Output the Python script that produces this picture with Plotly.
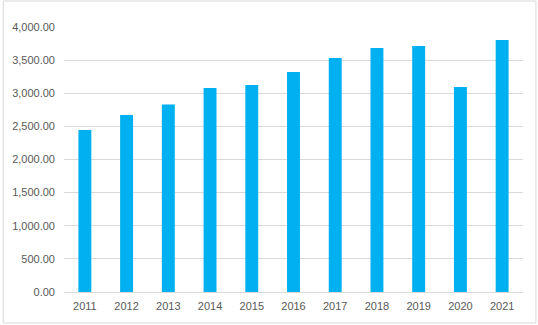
import plotly.graph_objects as go

# Annual totals, 2011-2021
years = ["2011", "2012", "2013", "2014", "2015", "2016",
         "2017", "2018", "2019", "2020", "2021"]
values = [2445, 2672, 2830, 3079, 3125, 3321, 3532, 3683, 3713, 3094, 3804]
y_ticks = [0, 500, 1000, 1500, 2000, 2500, 3000, 3500, 4000]

W, H = 538, 325
ML, MR, MT, MB = 62, 15, 27, 33
pw, ph = W - ML - MR, H - MT - MB

fig = go.Figure(
    go.Bar(
        x=years,
        y=values,
        marker=dict(color="#00B0F0", line=dict(width=0)),
        width=0.31,
    )
)

font = dict(family="Liberation Sans, Arial, sans-serif", size=11, color="#595959")

fig.update_layout(
    width=W,
    height=H,
    margin=dict(l=ML, r=MR, t=MT, b=MB),
    paper_bgcolor="white",
    plot_bgcolor="white",
    showlegend=False,
    font=font,
    xaxis=dict(
        type="category",
        showgrid=False,
        showline=True,
        linecolor="#D9D9D9",
        linewidth=1,
        ticks="",
        ticklabelstandoff=4,
    ),
    yaxis=dict(
        range=[0, 4000],
        tickvals=y_ticks,
        tickformat=",.2f",
        showgrid=True,
        gridcolor="#D9D9D9",
        gridwidth=1,
        zeroline=False,
        showline=False,
        ticks="",
        ticklabelstandoff=8,
    ),
    # thin chart-area border
    shapes=[
        dict(
            type="rect",
            xref="paper",
            yref="paper",
            x0=(1 - ML) / pw,
            x1=(W - 2 - ML) / pw,
            y0=(MT + ph - (H - 2)) / ph,
            y1=(MT + ph - 1) / ph,
            line=dict(color="#D9D9D9", width=1),
            fillcolor="rgba(0,0,0,0)",
            layer="below",
        )
    ],
)

fig.write_html("out.html")
